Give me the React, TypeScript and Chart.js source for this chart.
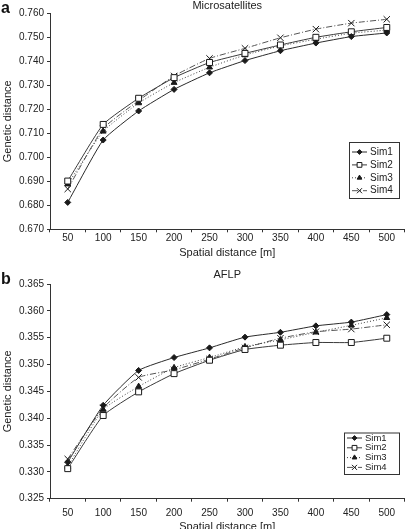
import React, { useEffect, useRef } from 'react';
import { Chart, registerables } from 'chart.js';
import { drawPoint } from 'chart.js/helpers';

Chart.register(...registerables);

// ---------- data ----------
const distanceLabels = ['50', '100', '150', '200', '250', '300', '350', '400', '450', '500'];
const seriesNames = ['Sim1', 'Sim2', 'Sim3', 'Sim4'];

const microSim1 = [0.6812, 0.7072, 0.7193, 0.7283, 0.7352, 0.7403, 0.7444, 0.7476, 0.7503, 0.7518];
const microSim2 = [0.6901, 0.7137, 0.7246, 0.7332, 0.7395, 0.7433, 0.7468, 0.7500, 0.7523, 0.7541];
const microSim3 = [0.6888, 0.7108, 0.7226, 0.7311, 0.7375, 0.7426, 0.7464, 0.7492, 0.7517, 0.7530];
const microSim4 = [0.6868, 0.7120, 0.7236, 0.7339, 0.7412, 0.7454, 0.7498, 0.7534, 0.7559, 0.7575];

const aflpSim1 = [0.3318, 0.3424, 0.3489, 0.3513, 0.3531, 0.3551, 0.3560, 0.3572, 0.3579, 0.3593];
const aflpSim2 = [0.3306, 0.3405, 0.3449, 0.3483, 0.3508, 0.3528, 0.3536, 0.3541, 0.3541, 0.3549];
const aflpSim3 = [0.3310, 0.3416, 0.3459, 0.3494, 0.3513, 0.3533, 0.3546, 0.3560, 0.3573, 0.3587];
const aflpSim4 = [0.3324, 0.3419, 0.3476, 0.3490, 0.3510, 0.3531, 0.3549, 0.3561, 0.3566, 0.3574];

const microTitle = 'Microsatellites';
const aflpTitle = 'AFLP';
const xAxisTitle = 'Spatial distance [m]';
const yAxisTitle = 'Genetic distance';
const microYRange = [0.67, 0.76, 0.01];
const aflpYRange = [0.325, 0.365, 0.005];

// ---------- styles ----------
const FONT = '"Liberation Sans", Arial, Helvetica, sans-serif';
const seriesStyles = [
  { pointStyle: 'rectRot', radius: 3, fill: '#1a1a1a', dash: [] as number[], color: '#2a2a2a' },
  { pointStyle: 'rect', radius: 4.2, fill: '#ffffff', dash: [] as number[], color: '#3a3a3a' },
  { pointStyle: 'triangle', radius: 3.4, fill: '#1a1a1a', dash: [1, 2], color: '#444444' },
  { pointStyle: 'crossRot', radius: 4.5, fill: '#1a1a1a', dash: [6, 2, 1, 2], color: '#555555' },
];

const boxLegendPlugin = {
  id: 'boxLegend',
  afterDraw(chart: any, _args: any, opts: any) {
    const ctx = chart.ctx as CanvasRenderingContext2D;
    ctx.save();
    ctx.setLineDash([]);
    ctx.strokeStyle = '#333';
    ctx.lineWidth = 1;
    ctx.strokeRect(opts.left + 0.5, opts.top + 0.5, opts.width, opts.height);
    chart.data.datasets.forEach((ds: any, i: number) => {
      const y = opts.rowStart + i * opts.rowGap;
      const x0 = opts.left + 3;
      const x1 = x0 + opts.lineLen;
      ctx.strokeStyle = ds.borderColor;
      ctx.lineWidth = 1;
      ctx.setLineDash(ds.borderDash || []);
      ctx.beginPath();
      ctx.moveTo(x0, y);
      ctx.lineTo(x1, y);
      ctx.stroke();
      ctx.setLineDash([]);
      ctx.fillStyle = ds.pointBackgroundColor;
      ctx.strokeStyle = ds.pointBorderColor;
      ctx.lineWidth = 1;
      drawPoint(ctx, { pointStyle: ds.pointStyle, radius: ds.pointRadius * 0.8, borderWidth: 1, rotation: 0 } as any, (x0 + x1) / 2, y);
      ctx.fillStyle = '#222';
      ctx.font = `${opts.fontSize}px ${FONT}`;
      ctx.textBaseline = 'middle';
      ctx.textAlign = 'left';
      ctx.fillText(ds.label, x1 + opts.textGap, y);
    });
    ctx.restore();
  },
};

const panelTitlePlugin = {
  id: 'panelTitle',
  afterDraw(chart: any, _args: any, opts: any) {
    const ctx = chart.ctx as CanvasRenderingContext2D;
    const area = chart.chartArea;
    ctx.save();
    ctx.fillStyle = '#111';
    ctx.textBaseline = 'middle';
    ctx.textAlign = 'left';
    ctx.font = `bold 16px ${FONT}`;
    ctx.fillText(opts.letter, opts.letterX, opts.letterY);
    ctx.font = `11px ${FONT}`;
    ctx.textAlign = 'center';
    ctx.fillStyle = '#222';
    ctx.fillText(opts.title, (area.left + area.right) / 2, opts.titleY);
    ctx.restore();
  },
};

type PanelProps = {
  letter: string;
  title: string;
  series: number[][];
  yRange: number[];
  height: number;
  padTop: number;
  axisHeight: number;
  xTickPad: number;
  xTitlePad: number;
  letterY: number;
  titleY: number;
  legend: any;
};

function Panel(p: PanelProps) {
  const ref = useRef<HTMLCanvasElement | null>(null);
  useEffect(() => {
    if (!ref.current) return;
    const [yMin, yMax, yStep] = p.yRange;
    const chart = new Chart(ref.current, {
      type: 'line',
      data: {
        labels: distanceLabels,
        datasets: p.series.map((vals, i) => ({
          label: seriesNames[i],
          data: vals,
          borderColor: seriesStyles[i].color,
          borderWidth: 1,
          borderDash: seriesStyles[i].dash,
          pointStyle: seriesStyles[i].pointStyle as any,
          pointRadius: seriesStyles[i].radius,
          pointBackgroundColor: seriesStyles[i].fill,
          pointBorderColor: '#1a1a1a',
          pointBorderWidth: 1,
          tension: 0.15,
          fill: false,
        })),
      },
      options: {
        responsive: false,
        animation: false,
        events: [],
        layout: { padding: { top: p.padTop, left: 0, right: 0, bottom: 0 } },
        plugins: {
          legend: { display: false },
          title: { display: false },
          tooltip: { enabled: false },
          boxLegend: p.legend,
          panelTitle: { letter: p.letter, title: p.title, letterX: 1, letterY: p.letterY, titleY: p.titleY },
        } as any,
        scales: {
          x: {
            type: 'category',
            offset: true,
            grid: { display: true, drawOnChartArea: false, drawTicks: true, tickLength: 3, color: '#333', offset: true },
            border: { display: true, color: '#333', width: 1 },
            ticks: { padding: p.xTickPad, color: '#222', font: { family: FONT, size: 10 }, maxRotation: 0, autoSkip: false },
            title: { display: true, text: xAxisTitle, color: '#222', font: { family: FONT, size: 11 }, padding: { top: 0, bottom: p.xTitlePad } },
            afterFit: (s: any) => { s.height = p.axisHeight; },
          },
          y: {
            type: 'linear',
            min: yMin,
            max: yMax,
            grid: { display: true, drawOnChartArea: false, drawTicks: true, tickLength: 3, color: '#333' },
            border: { display: true, color: '#333', width: 1 },
            ticks: {
              stepSize: yStep,
              padding: 3,
              color: '#222',
              font: { family: FONT, size: 10 },
              callback: (v: any) => Number(v).toFixed(3),
            },
            title: { display: true, text: yAxisTitle, color: '#222', font: { family: FONT, size: 11 }, padding: { top: 1, bottom: 0 } },
            afterFit: (s: any) => { s.width = 50; },
          },
        },
      },
      plugins: [boxLegendPlugin, panelTitlePlugin],
    });
    return () => chart.destroy();
  }, []);
  return (
    <canvas ref={ref} width={410} height={p.height} style={{ display: 'block', width: 410, height: p.height }} />
  );
}

export default function App() {
  return (
    <div style={{ position: 'absolute', left: 0, top: 0, width: 410, height: 529, overflow: 'hidden', background: '#fff' }}>
      <Panel
        letter="a"
        title={microTitle}
        series={[microSim1, microSim2, microSim3, microSim4]}
        yRange={microYRange}
        height={260}
        padTop={13.3}
        axisHeight={30.7}
        xTickPad={0}
        xTitlePad={0}
        letterY={8.5}
        titleY={5.5}
        legend={{ left: 349, top: 142, width: 50, height: 56, rowStart: 152, rowGap: 12.9, lineLen: 15, textGap: 3, fontSize: 10 }}
      />
      <Panel
        letter="b"
        title={aflpTitle}
        series={[aflpSim1, aflpSim2, aflpSim3, aflpSim4]}
        yRange={aflpYRange}
        height={276}
        padTop={24}
        axisHeight={37.3}
        xTickPad={6}
        xTitlePad={2.7}
        letterY={19.5}
        titleY={15}
        legend={{ left: 344, top: 172.5, width: 55, height: 41.5, rowStart: 178, rowGap: 9.8, lineLen: 15, textGap: 3, fontSize: 9.5 }}
      />
    </div>
  );
}
